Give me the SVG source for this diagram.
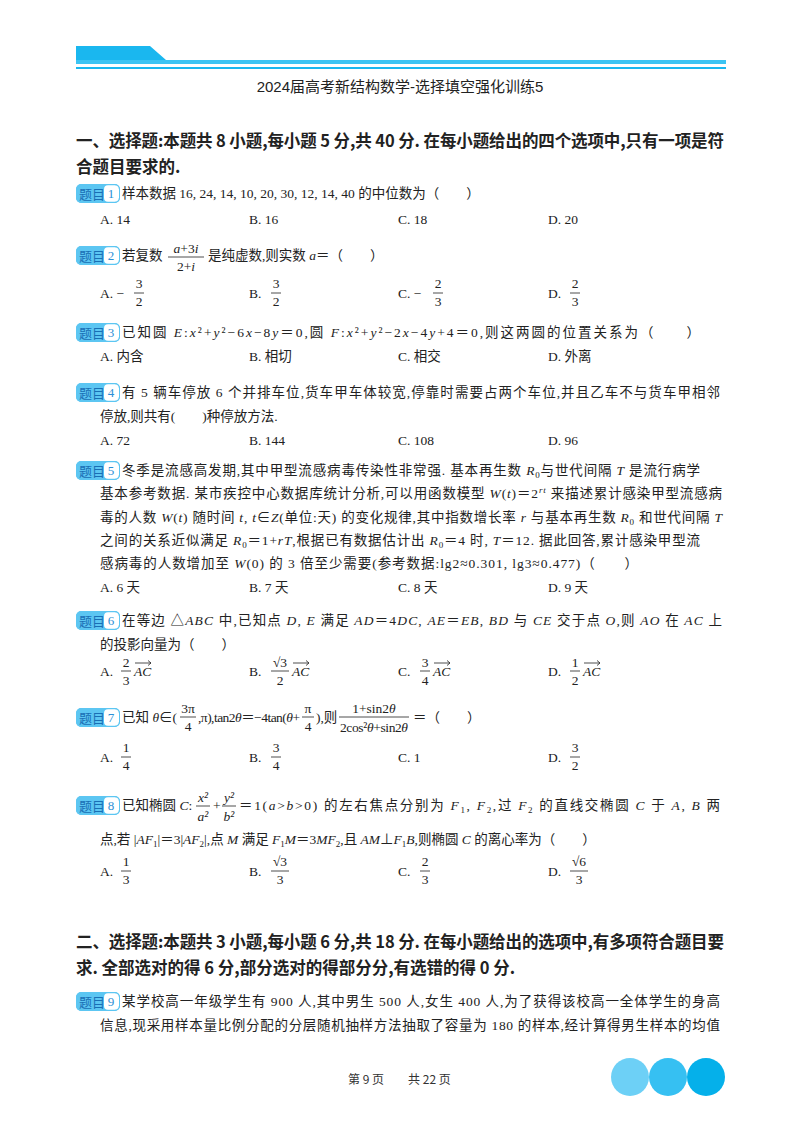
<svg xmlns="http://www.w3.org/2000/svg" width="800" height="1132" viewBox="0 0 800 1132">
<style>
text{font-family:"Liberation Serif","Noto Sans CJK SC",serif;font-size:13.5px;fill:#222}
.h{font-family:"Noto Sans CJK SC",sans-serif;font-weight:bold;font-size:16.5px}
.t{font-family:"Liberation Sans","Noto Sans CJK SC",sans-serif;font-size:15px;text-anchor:middle}
.i{font-style:italic}
.m{text-anchor:middle}
.bn{fill:#2b8fd6;font-size:13px;text-anchor:middle}
.bl{font-family:"Noto Sans CJK SC",sans-serif;fill:#1a6fb5;font-size:13px}
.fl{stroke:#222;stroke-width:0.8}
.vec{stroke:#222;stroke-width:0.8;fill:none}
.ft{font-family:"Noto Sans CJK SC",sans-serif;font-size:12px;fill:#333}
</style>
<defs>
<g id="badge"><rect x="0" y="0" width="44" height="19" rx="5" fill="#5cc6f2"/><rect x="28" y="1.2" width="15" height="16.6" rx="4" fill="#fff"/><rect x="0.5" y="0.5" width="43" height="18" rx="5" fill="none" stroke="#5cc6f2"/><text class="bl" x="3" y="14.5">题目</text></g>
<path id="arr" d="M0 0 H16 M13 -2.5 L16 0 L13 2.5" class="vec"/>
</defs>
<g id="header">
<path d="M76 46 H150 L166 60 H726 V64 H76 Z" fill="#1ab7ef"/>
<rect x="76" y="60" width="650" height="4" fill="#3cc4f3"/>
<rect x="76" y="67" width="650" height="2" fill="#1ab7ef"/>
<text class="t" x="400" y="92">2024届高考新结构数学-选择填空强化训练5</text>
</g>
<g id="sec1">
<text class="h" x="76" y="147" textLength="648">一、选择题:本题共 8 小题,每小题 5 分,共 40 分. 在每小题给出的四个选项中,只有一项是符</text>
<text class="h" x="76" y="173">合题目要求的.</text>
</g>
<g id="q1">
<use href="#badge" x="76" y="184"/><text class="bn" x="111" y="198">1</text>
<text x="122" y="198">样本数据 16, 24, 14, 10, 20, 30, 12, 14, 40 的中位数为（　　）</text>
<text x="100" y="224">A. 14</text><text x="249" y="224">B. 16</text><text x="398" y="224">C. 18</text><text x="548" y="224">D. 20</text>
</g>
<g id="q2">
<use href="#badge" x="76" y="246"/><text class="bn" x="111" y="260">2</text>
<text x="122" y="260">若复数</text>
<text class="m" x="186" y="253"><tspan class="i">a</tspan>+3<tspan class="i">i</tspan></text><line class="fl" x1="168" y1="257" x2="204" y2="257"/><text class="m" x="186" y="271">2+<tspan class="i">i</tspan></text>
<text x="208" y="260">是纯虚数,则实数 <tspan class="i">a</tspan>＝（　　）</text>
<text x="100" y="298">A. −</text><text class="m" x="139" y="288">3</text><line class="fl" x1="134" y1="293" x2="144" y2="293"/><text class="m" x="139" y="306">2</text>
<text x="249" y="298">B.</text><text class="m" x="276" y="288">3</text><line class="fl" x1="271" y1="293" x2="281" y2="293"/><text class="m" x="276" y="306">2</text>
<text x="398" y="298">C. −</text><text class="m" x="438" y="288">2</text><line class="fl" x1="433" y1="293" x2="443" y2="293"/><text class="m" x="438" y="306">3</text>
<text x="548" y="298">D.</text><text class="m" x="575" y="288">2</text><line class="fl" x1="570" y1="293" x2="580" y2="293"/><text class="m" x="575" y="306">3</text>
</g>
<g id="q3">
<use href="#badge" x="76" y="323"/><text class="bn" x="111" y="337">3</text>
<text x="122" y="337" textLength="578">已知圆 <tspan class="i">E</tspan>:<tspan class="i">x</tspan>²+<tspan class="i">y</tspan>²−6<tspan class="i">x</tspan>−8<tspan class="i">y</tspan>＝0,圆 <tspan class="i">F</tspan>:<tspan class="i">x</tspan>²+<tspan class="i">y</tspan>²−2<tspan class="i">x</tspan>−4<tspan class="i">y</tspan>+4＝0,则这两圆的位置关系为（　　）</text>
<text x="100" y="361">A. 内含</text><text x="249" y="361">B. 相切</text><text x="398" y="361">C. 相交</text><text x="548" y="361">D. 外离</text>
</g>
<g id="q4">
<use href="#badge" x="76" y="383"/><text class="bn" x="111" y="397">4</text>
<text x="122" y="397" textLength="598">有 5 辆车停放 6 个并排车位,货车甲车体较宽,停靠时需要占两个车位,并且乙车不与货车甲相邻</text>
<text x="100" y="421">停放,则共有(　　)种停放方法.</text>
<text x="100" y="445">A. 72</text><text x="249" y="445">B. 144</text><text x="398" y="445">C. 108</text><text x="548" y="445">D. 96</text>
</g>
<g id="q5">
<use href="#badge" x="76" y="461"/><text class="bn" x="111" y="475">5</text>
<text x="122" y="475" textLength="578">冬季是流感高发期,其中甲型流感病毒传染性非常强. 基本再生数 <tspan class="i">R</tspan><tspan font-size="9" dy="3">0</tspan><tspan dy="-3">与世代间隔 </tspan><tspan class="i">T</tspan> 是流行病学</text>
<text x="100" y="498" textLength="622">基本参考数据. 某市疾控中心数据库统计分析,可以用函数模型 <tspan class="i">W</tspan>(<tspan class="i">t</tspan>)＝2<tspan font-size="9" dy="-5" class="i">rt</tspan><tspan dy="5"> 来描述累计感染甲型流感病</tspan></text>
<text x="100" y="522" textLength="622">毒的人数 <tspan class="i">W</tspan>(<tspan class="i">t</tspan>) 随时间 <tspan class="i">t</tspan>, <tspan class="i">t</tspan>∈<tspan class="i">Z</tspan>(单位:天) 的变化规律,其中指数增长率 <tspan class="i">r</tspan> 与基本再生数 <tspan class="i">R</tspan><tspan font-size="9" dy="3">0</tspan><tspan dy="-3"> 和世代间隔 </tspan><tspan class="i">T</tspan></text>
<text x="100" y="545" textLength="600">之间的关系近似满足 <tspan class="i">R</tspan><tspan font-size="9" dy="3">0</tspan><tspan dy="-3">＝1+</tspan><tspan class="i">rT</tspan>,根据已有数据估计出 <tspan class="i">R</tspan><tspan font-size="9" dy="3">0</tspan><tspan dy="-3">＝4 时, </tspan><tspan class="i">T</tspan>＝12. 据此回答,累计感染甲型流</text>
<text x="100" y="568" textLength="538">感病毒的人数增加至 <tspan class="i">W</tspan>(0) 的 3 倍至少需要(参考数据:lg2≈0.301, lg3≈0.477)（　　）</text>
<text x="100" y="592">A. 6 天</text><text x="249" y="592">B. 7 天</text><text x="398" y="592">C. 8 天</text><text x="548" y="592">D. 9 天</text>
</g>
<g id="q6">
<use href="#badge" x="76" y="611"/><text class="bn" x="111" y="625">6</text>
<text x="122" y="625" textLength="600">在等边 △<tspan class="i">ABC</tspan> 中,已知点 <tspan class="i">D</tspan>, <tspan class="i">E</tspan> 满足 <tspan class="i">AD</tspan>＝4<tspan class="i">DC</tspan>, <tspan class="i">AE</tspan>＝<tspan class="i">EB</tspan>, <tspan class="i">BD</tspan> 与 <tspan class="i">CE</tspan> 交于点 <tspan class="i">O</tspan>,则 <tspan class="i">AO</tspan> 在 <tspan class="i">AC</tspan> 上</text>
<text x="100" y="649">的投影向量为（　　）</text>
<text x="100" y="676">A.</text><text class="m" x="126" y="667">2</text><line class="fl" x1="121" y1="671" x2="131" y2="671"/><text class="m" x="126" y="685">3</text><text class="i" x="134" y="676">AC</text><use href="#arr" x="135" y="663"/>
<text x="249" y="676">B.</text><text class="m" x="280" y="667">√3</text><line class="fl" x1="271" y1="671" x2="289" y2="671"/><text class="m" x="280" y="685">2</text><text class="i" x="292" y="676">AC</text><use href="#arr" x="293" y="663"/>
<text x="398" y="676">C.</text><text class="m" x="425" y="667">3</text><line class="fl" x1="420" y1="671" x2="430" y2="671"/><text class="m" x="425" y="685">4</text><text class="i" x="433" y="676">AC</text><use href="#arr" x="434" y="663"/>
<text x="548" y="676">D.</text><text class="m" x="575" y="667">1</text><line class="fl" x1="570" y1="671" x2="580" y2="671"/><text class="m" x="575" y="685">2</text><text class="i" x="583" y="676">AC</text><use href="#arr" x="584" y="663"/>
</g>
<g id="q7">
<use href="#badge" x="76" y="708"/><text class="bn" x="111" y="722">7</text>
<text x="122" y="722">已知 <tspan class="i">θ</tspan>∈(</text>
<text class="m" x="188" y="713">3π</text><line class="fl" x1="180" y1="717" x2="196" y2="717"/><text class="m" x="188" y="731">4</text>
<text x="198" y="722" textLength="102">,π),tan2<tspan class="i">θ</tspan>＝−4tan(<tspan class="i">θ</tspan>+</text>
<text class="m" x="308" y="713">π</text><line class="fl" x1="302" y1="717" x2="314" y2="717"/><text class="m" x="308" y="731">4</text>
<text x="316" y="722">),则</text>
<text class="m" x="374" y="713">1+sin2<tspan class="i">θ</tspan></text><line class="fl" x1="339" y1="717" x2="409" y2="717"/><text class="m" x="374" y="732" textLength="68">2cos²<tspan class="i">θ</tspan>+sin2<tspan class="i">θ</tspan></text>
<text x="413" y="722">＝（　　）</text>
<text x="100" y="762">A.</text><text class="m" x="126" y="752">1</text><line class="fl" x1="121" y1="757" x2="131" y2="757"/><text class="m" x="126" y="770">4</text>
<text x="249" y="762">B.</text><text class="m" x="276" y="752">3</text><line class="fl" x1="271" y1="757" x2="281" y2="757"/><text class="m" x="276" y="770">4</text>
<text x="398" y="762">C. 1</text>
<text x="548" y="762">D.</text><text class="m" x="575" y="752">3</text><line class="fl" x1="570" y1="757" x2="580" y2="757"/><text class="m" x="575" y="770">2</text>
</g>
<g id="q8">
<use href="#badge" x="76" y="796"/><text class="bn" x="111" y="810">8</text>
<text x="122" y="810">已知椭圆 <tspan class="i">C</tspan>:</text>
<text class="m i" x="203" y="802">x²</text><line class="fl" x1="196" y1="806" x2="210" y2="806"/><text class="m i" x="203" y="821">a²</text>
<text x="213" y="810">+</text>
<text class="m i" x="229" y="802">y²</text><line class="fl" x1="222" y1="806" x2="236" y2="806"/><text class="m i" x="229" y="821">b²</text>
<text x="239" y="810" textLength="481">＝1(<tspan class="i">a</tspan>&gt;<tspan class="i">b</tspan>&gt;0) 的左右焦点分别为 <tspan class="i">F</tspan><tspan font-size="9" dy="3">1</tspan><tspan dy="-3">, </tspan><tspan class="i">F</tspan><tspan font-size="9" dy="3">2</tspan><tspan dy="-3">,过 </tspan><tspan class="i">F</tspan><tspan font-size="9" dy="3">2</tspan><tspan dy="-3"> 的直线交椭圆 </tspan><tspan class="i">C</tspan> 于 <tspan class="i">A</tspan>, <tspan class="i">B</tspan> 两</text>
<text x="100" y="844">点,若 |<tspan class="i">AF</tspan><tspan font-size="9" dy="3">1</tspan><tspan dy="-3">|＝3|</tspan><tspan class="i">AF</tspan><tspan font-size="9" dy="3">2</tspan><tspan dy="-3">|,点 </tspan><tspan class="i">M</tspan> 满足 <tspan class="i">F</tspan><tspan font-size="9" dy="3">1</tspan><tspan dy="-3" class="i">M</tspan>＝3<tspan class="i">MF</tspan><tspan font-size="9" dy="3">2</tspan><tspan dy="-3">,且 </tspan><tspan class="i">AM</tspan>⊥<tspan class="i">F</tspan><tspan font-size="9" dy="3">1</tspan><tspan dy="-3" class="i">B</tspan>,则椭圆 <tspan class="i">C</tspan> 的离心率为（　　）</text>
<text x="100" y="876">A.</text><text class="m" x="126" y="866">1</text><line class="fl" x1="121" y1="871" x2="131" y2="871"/><text class="m" x="126" y="884">3</text>
<text x="249" y="876">B.</text><text class="m" x="280" y="866">√3</text><line class="fl" x1="271" y1="871" x2="289" y2="871"/><text class="m" x="280" y="884">3</text>
<text x="398" y="876">C.</text><text class="m" x="425" y="866">2</text><line class="fl" x1="420" y1="871" x2="430" y2="871"/><text class="m" x="425" y="884">3</text>
<text x="548" y="876">D.</text><text class="m" x="579" y="866">√6</text><line class="fl" x1="570" y1="871" x2="588" y2="871"/><text class="m" x="579" y="884">3</text>
</g>
<g id="sec2">
<text class="h" x="76" y="948" textLength="648">二、选择题:本题共 3 小题,每小题 6 分,共 18 分. 在每小题给出的选项中,有多项符合题目要</text>
<text class="h" x="76" y="974">求. 全部选对的得 6 分,部分选对的得部分分,有选错的得 0 分.</text>
</g>
<g id="q9">
<use href="#badge" x="76" y="992"/><text class="bn" x="111" y="1006">9</text>
<text x="122" y="1006" textLength="598">某学校高一年级学生有 900 人,其中男生 500 人,女生 400 人,为了获得该校高一全体学生的身高</text>
<text x="100" y="1030" textLength="620">信息,现采用样本量比例分配的分层随机抽样方法抽取了容量为 180 的样本,经计算得男生样本的均值</text>
</g>
<g id="footer">
<text class="ft" x="348" y="1084">第 9 页　　共 22 页</text>
<circle cx="630" cy="1077" r="19" fill="#6dd0f6"/>
<circle cx="668" cy="1077" r="19" fill="#36c0f2"/>
<circle cx="706" cy="1077" r="19" fill="#05b0ea"/>
</g>
</svg>
